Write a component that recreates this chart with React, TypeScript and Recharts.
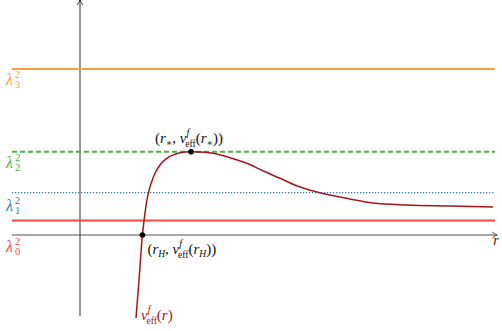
import {
  LineChart,
  Line,
  XAxis,
  YAxis,
  ReferenceLine,
  ReferenceDot,
} from 'recharts'

// curve v_eff^f(r)
const curveR = [
  1.4, 1.475, 1.56, 1.6, 1.6675, 1.7075, 1.7925, 1.875, 2.0, 2.1675, 2.375, 2.625,
  2.775, 3.125, 3.325, 3.75, 4.1675, 4.5825, 5.0, 5.4175, 5.8325, 6.25, 6.75,
  7.325, 8.175, 9.25, 10.325,
]
const curveV = [
  -1.66, -0.9, 0, 0.28, 0.666, 0.834, 1.066, 1.234, 1.4, 1.534, 1.614, 1.66,
  1.666, 1.654, 1.634, 1.546, 1.434, 1.28, 1.134, 0.986, 0.88, 0.8, 0.72,
  0.64, 0.6, 0.58, 0.56,
]

const levelNames = ['3', '2', '1', '0']
const levelValues = [3.32, 1.666, 0.846, 0.29]
const levelColors = ['#f7a043', '#52ad45', '#2f7fb0', '#f44a4a']

const rH = { r: 1.56, v: 0 }
const rStar = { r: 2.775, v: 1.666 }

const xLeft = -1.7
const xRight = 10.375
const xArrow = 10.43
const yBottom = -1.62
const yTop = 4.7

const data = curveR.map((r, i) => ({ r, v: curveV[i] }))

const FONT = "'Liberation Serif', 'DejaVu Serif', serif"
const txt = { fontFamily: FONT }

function Lam({ x, y, sub, color }: { x: number; y: number; sub: string; color: string }) {
  return (
    <g fill={color}>
      <text x={x} y={y} fontSize={16} fontStyle="italic" style={txt}>λ</text>
      <text x={x + 9} y={y - 7} fontSize={10.5} style={txt}>2</text>
      <text x={x + 9} y={y + 3} fontSize={10.5} style={txt}>{sub}</text>
    </g>
  )
}

function Veff({ arg, sub }: { arg: string; sub?: string }) {
  return (
    <>
      <tspan fontStyle="italic">v</tspan>
      <tspan fontStyle="italic" fontSize={10} dy={-7}>f</tspan>
      <tspan fontSize={9.5} dx={-4} dy={11}>eff</tspan>
      <tspan dy={-4}>(</tspan>
      <tspan fontStyle="italic">{arg}</tspan>
      {sub ? <tspan fontSize={9.5} dy={3} fontStyle="italic">{sub}</tspan> : null}
      <tspan dy={sub ? -3 : 0}>)</tspan>
    </>
  )
}

export default function App() {
  return (
    <div style={{ position: 'absolute', left: 0, top: 0, width: 502, height: 331, background: '#fff' }}>
      <LineChart width={502} height={331} data={data} margin={{ top: 0, right: 0, left: 0, bottom: 0 }}>
        <XAxis dataKey="r" type="number" domain={[-2, 10.55]} hide />
        <YAxis type="number" domain={[-1.92, 4.7]} hide />

        {/* axes */}
        <ReferenceLine
          segment={[{ x: xLeft, y: 0 }, { x: xArrow, y: 0 }]}
          stroke="#8a8a8a"
          strokeWidth={1.3}
          ifOverflow="visible"
        />
        <ReferenceLine
          segment={[{ x: 0, y: yBottom }, { x: 0, y: yTop }]}
          stroke="#333"
          strokeWidth={1}
          ifOverflow="visible"
        />
        <ReferenceDot
          x={xArrow}
          y={0}
          ifOverflow="visible"
          shape={(p: any) => (
            <g>
              <path d={`M${p.cx - 5},${p.cy - 3} Q${p.cx - 2},${p.cy - 0.6} ${p.cx},${p.cy} Q${p.cx - 2},${p.cy + 0.6} ${p.cx - 5},${p.cy + 3}`} stroke="#555" fill="none" strokeWidth={1} />
              <text x={p.cx - 4} y={p.cy + 10} fontSize={14} fontStyle="italic" fill="#222" style={txt}>r</text>
            </g>
          )}
        />
        <ReferenceDot
          x={0}
          y={yTop}
          ifOverflow="visible"
          shape={(p: any) => (
            <path d={`M${p.cx - 3},${p.cy + 5} Q${p.cx - 0.6},${p.cy + 2} ${p.cx},${p.cy} Q${p.cx + 0.6},${p.cy + 2} ${p.cx + 3},${p.cy + 5}`} stroke="#333" fill="none" strokeWidth={1} />
          )}
        />

        {/* levels */}
        <ReferenceLine segment={[{ x: xLeft, y: levelValues[0] }, { x: xRight, y: levelValues[0] }]} stroke={levelColors[0]} strokeWidth={2} />
        <ReferenceLine segment={[{ x: xLeft, y: levelValues[1] }, { x: xRight, y: levelValues[1] }]} stroke={levelColors[1]} strokeWidth={2} strokeDasharray="5 3" />
        <ReferenceLine segment={[{ x: xLeft, y: levelValues[2] }, { x: xRight, y: levelValues[2] }]} stroke={levelColors[2]} strokeWidth={1.3} strokeDasharray="1.3 1.7" />
        <ReferenceLine segment={[{ x: xLeft, y: levelValues[3] }, { x: xRight, y: levelValues[3] }]} stroke={levelColors[3]} strokeWidth={2} />

        {levelValues.map((val, i) => (
          <ReferenceDot
            key={i}
            x={-1.85}
            y={val}
            ifOverflow="visible"
            shape={(p: any) => (
              <Lam x={p.cx} y={p.cy + (i === 3 ? 31 : i === 2 ? 18 : 16)} sub={levelNames[i]} color={levelColors[i]} />
            )}
          />
        ))}

        <Line
          dataKey="v"
          type="monotone"
          stroke="#a3161b"
          strokeWidth={1.5}
          dot={false}
          activeDot={false}
          isAnimationActive={false}
        />

        <ReferenceDot
          x={1.525}
          y={-1.7}
          ifOverflow="visible"
          shape={(p: any) => (
            <text x={p.cx} y={p.cy} fontSize={15} fill="#a3161b" style={txt}>
              <Veff arg="r" />
            </text>
          )}
        />

        <ReferenceDot
          x={rH.r}
          y={rH.v}
          ifOverflow="visible"
          shape={(p: any) => (
            <g>
              <circle cx={p.cx} cy={p.cy} r={2.8} fill="#000" />
              <text x={p.cx + 5} y={p.cy + 19} fontSize={15} fill="#111" style={txt}>
                <tspan>(</tspan>
                <tspan fontStyle="italic">r</tspan>
                <tspan fontSize={9.5} fontStyle="italic" dy={3}>H</tspan>
                <tspan dy={-3}>, </tspan>
                <Veff arg="r" sub="H" />
                <tspan>)</tspan>
              </text>
            </g>
          )}
        />
        <ReferenceDot
          x={rStar.r}
          y={rStar.v}
          ifOverflow="visible"
          shape={(p: any) => (
            <g>
              <circle cx={p.cx} cy={p.cy} r={2.8} fill="#000" />
              <text x={p.cx - 36} y={p.cy - 9} fontSize={15} fill="#111" style={txt}>
                <tspan>(</tspan>
                <tspan fontStyle="italic">r</tspan>
                <tspan fontSize={9.5} dy={3}>∗</tspan>
                <tspan dy={-3}>, </tspan>
                <Veff arg="r" sub="∗" />
                <tspan>)</tspan>
              </text>
            </g>
          )}
        />
      </LineChart>
    </div>
  )
}
